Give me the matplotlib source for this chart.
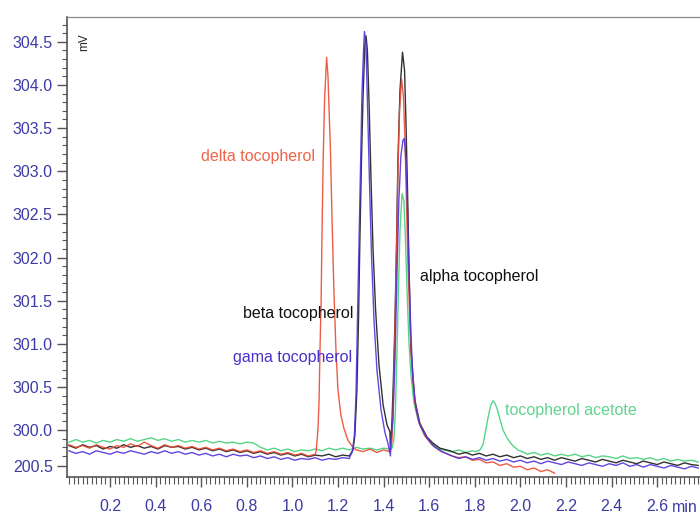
import numpy as np
import matplotlib
matplotlib.use('Agg')
from matplotlib import pyplot as plt
from matplotlib.ticker import FixedLocator

plt.rcParams['font.family'] = ['Liberation Sans', 'DejaVu Sans']

# baseline sampling grid (min) shared by all traces
grid_x = np.round(0.02 + 0.03 * np.arange(93), 2)

# baseline readings (mV), one per grid point
green_base = [299.86, 299.89, 299.86, 299.88, 299.85, 299.88, 299.86, 299.89, 299.87, 299.90,
              299.87, 299.89, 299.91, 299.88, 299.90, 299.87, 299.89, 299.86, 299.88, 299.86,
              299.88, 299.85, 299.87, 299.85, 299.86, 299.84, 299.86, 299.85, 299.80, 299.77,
              299.79, 299.76, 299.78, 299.75, 299.77, 299.76, 299.78, 299.76, 299.79, 299.77,
              299.79, 299.77, 299.80, 299.78, 299.79, 299.77, 299.79, 299.78, 299.78, 299.78,
              299.78, 299.78, 299.78, 299.78, 299.77, 299.76, 299.75, 299.77, 299.74, 299.76,
              299.75, 299.75, 299.75, 299.75, 299.74, 299.74, 299.74, 299.72, 299.74, 299.71,
              299.73, 299.70, 299.72, 299.70, 299.72, 299.69, 299.71, 299.68, 299.70, 299.69,
              299.67, 299.70, 299.67, 299.68, 299.66, 299.68, 299.65, 299.67, 299.64, 299.66,
              299.64, 299.65, 299.63]
black_base = [299.82, 299.79, 299.83, 299.80, 299.82, 299.78, 299.81, 299.79, 299.83, 299.80,
              299.82, 299.79, 299.81, 299.78, 299.82, 299.80, 299.81, 299.78, 299.80, 299.77,
              299.79, 299.76, 299.78, 299.75, 299.77, 299.74, 299.76, 299.73, 299.75, 299.72,
              299.74, 299.71, 299.73, 299.70, 299.72, 299.69, 299.71, 299.70, 299.72, 299.69,
              299.71, 299.70, 299.75, 299.75, 299.75, 299.75, 299.75, 299.75, 299.75, 299.75,
              299.75, 299.75, 299.75, 299.75, 299.75, 299.75, 299.75, 299.72, 299.74, 299.71,
              299.73, 299.70, 299.72, 299.69, 299.71, 299.68, 299.70, 299.67, 299.69, 299.66,
              299.68, 299.65, 299.68, 299.66, 299.64, 299.67, 299.65, 299.63, 299.66, 299.64,
              299.62, 299.65, 299.63, 299.61, 299.64, 299.62, 299.60, 299.63, 299.61, 299.59,
              299.62, 299.60, 299.59]
blue_base = [299.76, 299.73, 299.75, 299.72, 299.76, 299.74, 299.72, 299.75, 299.73, 299.76,
             299.74, 299.72, 299.75, 299.73, 299.76, 299.73, 299.75, 299.72, 299.74, 299.71,
             299.73, 299.70, 299.72, 299.69, 299.72, 299.70, 299.71, 299.68, 299.70, 299.67,
             299.69, 299.66, 299.68, 299.65, 299.67, 299.66, 299.68, 299.65, 299.67, 299.66,
             299.68, 299.67, 299.70, 299.70, 299.70, 299.70, 299.70, 299.70, 299.70, 299.70,
             299.70, 299.70, 299.70, 299.70, 299.70, 299.70, 299.70, 299.67, 299.69, 299.66,
             299.68, 299.65, 299.67, 299.64, 299.66, 299.63, 299.65, 299.62, 299.64, 299.61,
             299.64, 299.62, 299.60, 299.63, 299.61, 299.59, 299.62, 299.60, 299.58, 299.61,
             299.59, 299.62, 299.58, 299.60, 299.57, 299.60, 299.58, 299.56, 299.59, 299.57,
             299.55, 299.58, 299.56]
red_base = [299.83, 299.80, 299.82, 299.79, 299.83, 299.80, 299.78, 299.82, 299.80, 299.84,
            299.81, 299.86, 299.82, 299.79, 299.83, 299.80, 299.82, 299.79, 299.81, 299.78,
            299.80, 299.77, 299.79, 299.76, 299.78, 299.75, 299.77, 299.74, 299.76, 299.73,
            299.75, 299.72, 299.74, 299.71, 299.73, 299.70, 299.72, 299.75, 299.75, 299.75,
            299.75, 299.75, 299.77, 299.75, 299.78, 299.74, 299.77, 299.75, 299.75, 299.75,
            299.75, 299.75, 299.75, 299.75, 299.75, 299.75, 299.70, 299.68, 299.69, 299.65,
            299.66, 299.62, 299.63, 299.59, 299.61, 299.57, 299.58, 299.54, 299.56, 299.52,
            299.54, 299.50]

# peaks (min, mV)
red_delta_x = [1.104, 1.112, 1.117, 1.121, 1.126, 1.130, 1.135, 1.141, 1.150, 1.156,
               1.161, 1.167, 1.174, 1.182, 1.191, 1.200, 1.213, 1.226, 1.244, 1.266]
red_delta_y = [299.75, 300.00, 300.35, 300.93, 301.50, 302.31, 303.13, 303.82, 304.32, 304.11,
               303.70, 303.24, 302.43, 301.62, 300.93, 300.46, 300.17, 300.02, 299.88, 299.80]
red_alpha_x = [1.428, 1.437, 1.443, 1.450, 1.457, 1.463, 1.470, 1.479, 1.487, 1.494,
               1.500, 1.507, 1.516, 1.525, 1.537, 1.555, 1.582, 1.612, 1.647, 1.691]
red_alpha_y = [299.75, 299.88, 300.35, 301.16, 302.08, 303.01, 303.70, 304.07, 303.87, 303.36,
               302.66, 301.91, 301.22, 300.69, 300.32, 300.09, 299.93, 299.83, 299.76, 299.71]

black_beta_x = [1.252, 1.266, 1.274, 1.283, 1.290, 1.296, 1.303, 1.310, 1.318, 1.323,
                1.329, 1.336, 1.345, 1.354, 1.365, 1.380, 1.398, 1.415, 1.428]
black_beta_y = [299.71, 299.77, 299.94, 300.46, 301.27, 302.20, 303.13, 303.88, 304.46, 304.57,
                304.40, 303.82, 302.89, 302.08, 301.39, 300.75, 300.29, 300.06, 299.98]
black_alpha_x = [1.437, 1.443, 1.450, 1.457, 1.463, 1.472, 1.483, 1.492, 1.498, 1.505,
                 1.511, 1.520, 1.537, 1.559, 1.590, 1.616, 1.647, 1.691]
black_alpha_y = [300.12, 300.58, 301.27, 302.20, 303.13, 303.94, 304.38, 304.17, 303.59, 302.78,
                 301.97, 300.93, 300.35, 300.08, 299.92, 299.85, 299.79, 299.76]

blue_gama_x = [1.252, 1.263, 1.272, 1.279, 1.285, 1.292, 1.299, 1.305, 1.312, 1.316,
               1.323, 1.329, 1.338, 1.347, 1.358, 1.371, 1.389, 1.406, 1.419]
blue_gama_y = [299.69, 299.75, 299.94, 300.41, 301.22, 302.14, 303.07, 303.88, 304.40, 304.62,
               304.46, 303.82, 302.89, 302.03, 301.27, 300.69, 300.23, 299.97, 299.85]
blue_alpha_x = [1.432, 1.441, 1.450, 1.459, 1.467, 1.476, 1.485, 1.491, 1.498, 1.505,
                1.511, 1.520, 1.529, 1.542, 1.559, 1.590, 1.621, 1.656, 1.700]
blue_alpha_y = [299.88, 300.12, 300.81, 301.85, 302.66, 303.18, 303.36, 303.38, 303.13, 302.55,
                301.85, 301.10, 300.58, 300.25, 300.06, 299.91, 299.81, 299.75, 299.70]

green_alpha_x = [1.437, 1.445, 1.452, 1.459, 1.465, 1.472, 1.481, 1.489, 1.496, 1.503,
                 1.511, 1.520, 1.533, 1.551, 1.577, 1.608, 1.647, 1.691]
green_alpha_y = [299.79, 299.88, 300.23, 300.93, 301.62, 302.31, 302.74, 302.66, 302.20, 301.62,
                 301.04, 300.64, 300.32, 300.12, 299.95, 299.85, 299.78, 299.75]
green_acet_x = [1.805, 1.823, 1.836, 1.847, 1.858, 1.869, 1.880, 1.889, 1.900, 1.911,
                1.924, 1.941, 1.963, 1.989, 2.025]
green_acet_y = [299.75, 299.77, 299.83, 299.98, 300.14, 300.28, 300.34, 300.31, 300.23, 300.12,
                300.00, 299.91, 299.83, 299.77, 299.73]

x_ticks = [0.2, 0.4, 0.6, 0.8, 1.0, 1.2, 1.4, 1.6, 1.8, 2.0, 2.2, 2.4, 2.6]
y_ticks = [299.58, 300.0, 300.5, 301.0, 301.5, 302.0, 302.5, 303.0, 303.5, 304.0, 304.5]
y_tick_labels = ['200.5', '300.0', '300.5', '301.0', '301.5', '302.0', '302.5',
                 '303.0', '303.5', '304.0', '304.5']


def build(base, segments):
    xs, ys = [], []
    for x, y in zip(grid_x, base):
        if any(sx[0] <= x <= sx[-1] for sx, _ in segments):
            continue
        xs.append(x)
        ys.append(y)
    for sx, sy in segments:
        xs += sx
        ys += sy
    order = np.argsort(xs)
    return np.array(xs)[order], np.array(ys)[order]


RED = '#ec4a32'
BLACK = '#1c1c1c'
BLUE = '#5232dc'
GREEN = '#44d07a'
TICK = '#3d3aa6'

fig = plt.figure(figsize=(7, 5.15), dpi=100)
ax = fig.add_axes([0.0953, 0.0738, 0.9047, 0.893])

traces = [
    (green_base, [(green_alpha_x, green_alpha_y), (green_acet_x, green_acet_y)], GREEN),
    (black_base, [(black_beta_x, black_beta_y), (black_alpha_x, black_alpha_y)], BLACK),
    (red_base, [(red_delta_x, red_delta_y), (red_alpha_x, red_alpha_y)], RED),
    (blue_base, [(blue_gama_x, blue_gama_y), (blue_alpha_x, blue_alpha_y)], BLUE),
]
for base, segs, col in traces:
    x, y = build(base, segs)
    ax.plot(x, y, color=col, lw=1.0, alpha=0.9)

ax.set_xlim(0.01, 2.788)
ax.set_ylim(299.456, 304.787)

ax.xaxis.set_major_locator(FixedLocator(x_ticks))
ax.set_xticklabels([f'{t:.1f}' for t in x_ticks])
ax.xaxis.set_minor_locator(FixedLocator(np.round(np.arange(0.02, 2.79, 0.02), 2)))
ax.yaxis.set_major_locator(FixedLocator(y_ticks))
ax.set_yticklabels(y_tick_labels)
ax.yaxis.set_minor_locator(FixedLocator(np.round(np.arange(299.7, 304.75, 0.1), 1)))

ax.tick_params(axis='both', which='both', direction='out', color='#555555',
               labelcolor=TICK, labelsize=11.5)
ax.tick_params(axis='x', which='major', length=7, width=1.0, pad=8.5)
ax.tick_params(axis='x', which='minor', length=5, width=0.8)
ax.tick_params(axis='y', which='major', length=7, width=1.0, pad=3)
ax.tick_params(axis='y', which='minor', length=3.5, width=0.8)

for side in ['left', 'bottom']:
    ax.spines[side].set_color('#555555')
    ax.spines[side].set_linewidth(1.2)
ax.spines['top'].set_color('#888888')
ax.spines['top'].set_linewidth(0.9)
ax.spines['right'].set_visible(False)

ax.text(2.72, -0.066, 'min', transform=ax.get_xaxis_transform(),
        ha='center', va='center', color=TICK, fontsize=11.5)
ax.text(0.086, 304.50, 'mV', rotation=90, ha='center', va='center',
        color='#222222', fontsize=8.5)

ax.text(0.600, 303.17, 'delta tocopherol', color='#f0644a', fontsize=11.5, va='center')
ax.text(0.783, 301.35, 'beta tocopherol', color='#111111', fontsize=11.5, va='center')
ax.text(0.739, 300.84, 'gama tocopherol', color='#4a30c8', fontsize=11.5, va='center')
ax.text(1.559, 301.78, 'alpha tocopherol', color='#111111', fontsize=11.5, va='center')
ax.text(1.932, 300.23, 'tocopherol acetote', color='#62d48c', fontsize=11.5, va='center')

fig.savefig('out.png', dpi=100)
